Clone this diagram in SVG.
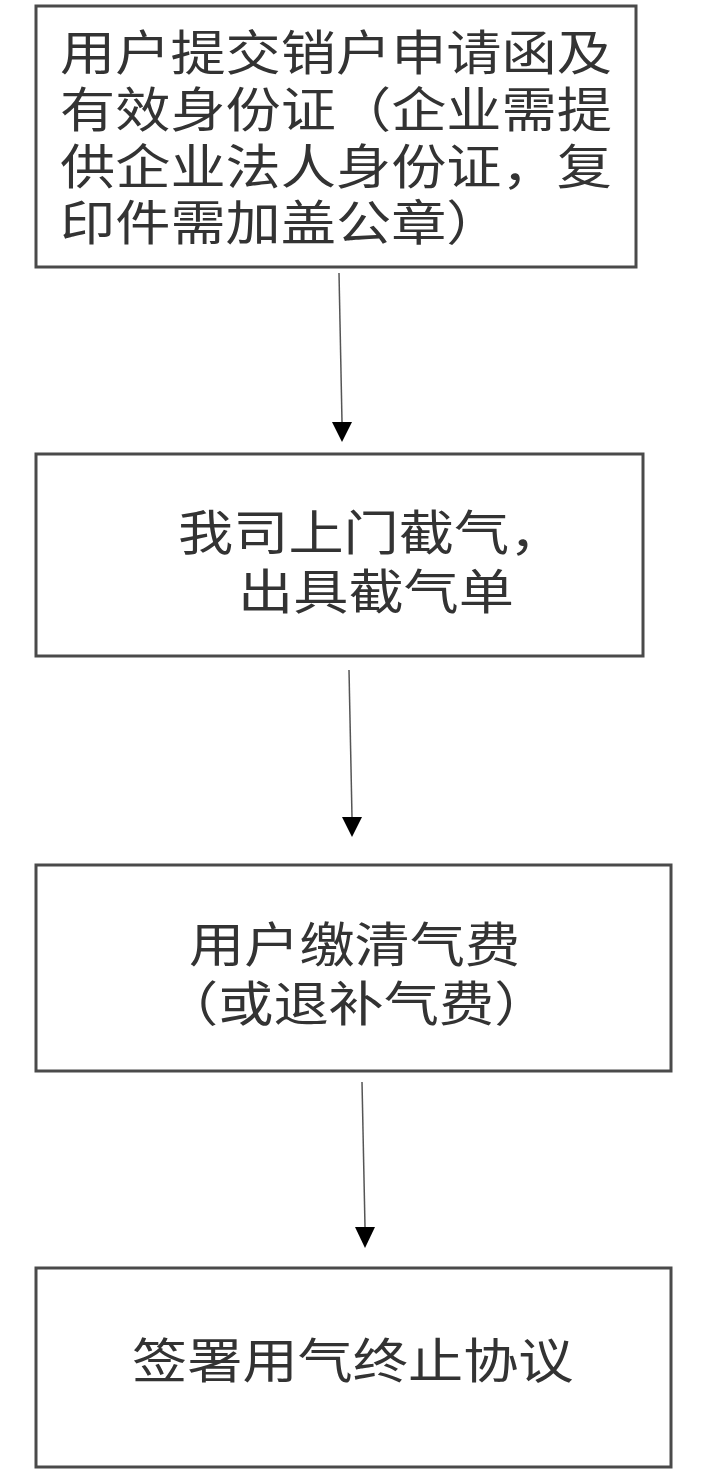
<svg xmlns="http://www.w3.org/2000/svg" width="720" height="1475" viewBox="0 0 720 1475">
<style>
.box{fill:#fff;stroke:#4a4a4a;stroke-width:3}
.t{font-family:"Liberation Sans","Noto Sans CJK SC",sans-serif;font-size:48px;fill:#333}
.ln{stroke:#555;stroke-width:1.5;fill:none}
.ah{fill:#000}
</style>
<rect width="720" height="1475" fill="#fff"/>
<g id="connectors">
<line class="ln" x1="339" y1="273" x2="342" y2="422"/>
<path class="ah" d="M332,422 L352,422 L342,442 Z"/>
<line class="ln" x1="349" y1="670" x2="352" y2="817"/>
<path class="ah" d="M342,817 L362,817 L352,837 Z"/>
<line class="ln" x1="362" y1="1082" x2="365" y2="1227"/>
<path class="ah" d="M355,1227 L375,1227 L365,1248 Z"/>
</g>
<g id="node1">
<rect class="box" x="36" y="6" width="600" height="261"/>
<text class="t" transform="translate(60,70) scale(1.15,1)">用户提交销户申请函及</text>
<text class="t" transform="translate(60,127) scale(1.15,1)">有效身份证（企业需提</text>
<text class="t" transform="translate(60,184) scale(1.15,1)">供企业法人身份证，复</text>
<text class="t" transform="translate(60,240) scale(1.15,1)">印件需加盖公章）</text>
</g>
<g id="node2">
<rect class="box" x="36" y="454" width="607" height="202"/>
<text class="t" transform="translate(178,550) scale(1.15,1)">我司上门截气，</text>
<text class="t" transform="translate(238,609) scale(1.15,1)">出具截气单</text>
</g>
<g id="node3">
<rect class="box" x="36" y="865" width="635" height="206"/>
<text class="t" transform="translate(189,962) scale(1.15,1)">用户缴清气费</text>
<text class="t" transform="translate(163,1021) scale(1.15,1)">（或退补气费）</text>
</g>
<g id="node4">
<rect class="box" x="36" y="1268" width="635" height="199"/>
<text class="t" transform="translate(132,1378) scale(1.15,1)">签署用气终止协议</text>
</g>
</svg>
